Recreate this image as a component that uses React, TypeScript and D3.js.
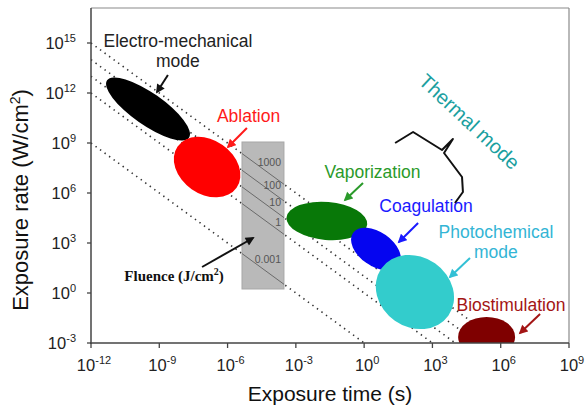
import React from "react";
import * as d3 from "d3";

// ---- data ----
const X_TICK_EXP = [-12, -9, -6, -3, 0, 3, 6, 9];
const Y_TICK_EXP = [-3, 0, 3, 6, 9, 12, 15];
const FLUENCES = [1000, 100, 10, 1, 0.001];
const FLUENCE_LABELS = ["1000", "100", "10", "1", "0.001"];
// label anchor (log time, log rate) for each fluence label
const FLUENCE_LABEL_POS: [number, number][] = [
  [-3.65, 7.62],
  [-3.65, 6.24],
  [-3.65, 5.22],
  [-3.65, 4.02],
  [-3.65, 1.8],
];
// fluence box extents: exposure time (s) and rate (W/cm2)
const BOX_TIME = [4.3e-6, 3.0e-4];
const BOX_RATE = [1.74, 1.15e9];

const REGION_NAMES = [
  "Electro-mechanical",
  "Ablation",
  "Vaporization",
  "Coagulation",
  "Photochemical",
  "Biostimulation",
];
const REGION_TIME = [3.2e-10, 1.26e-7, 2.3e-2, 3.3, 170, 2.4e5];
const REGION_RATE = [1.1e11, 3.6e7, 2.1e4, 4.4e2, 1.15, 2.3e-3];

// ---- styles ----
const REGION_STYLE: Record<string, { rx: number; ry: number; angle: number; fill: string }> = {
  "Electro-mechanical": { rx: 50, ry: 16, angle: 35, fill: "#000000" },
  Ablation: { rx: 36, ry: 27, angle: 35, fill: "#ff0000" },
  Vaporization: { rx: 40.5, ry: 19, angle: 5, fill: "#087808" },
  Coagulation: { rx: 28, ry: 17, angle: 35, fill: "#0505f0" },
  Photochemical: { rx: 41, ry: 35, angle: 35, fill: "#33cccc" },
  Biostimulation: { rx: 28.5, ry: 20, angle: 0, fill: "#7f0000" },
};

type Label = { lines: string[]; at: [number, number]; color: string; size: number };
const LABELS: Label[] = [
  { lines: ["Electro-mechanical", "mode"], at: [-8.18, 14.76], color: "#222", size: 17.5 },
  { lines: ["Ablation"], at: [-5.08, 10.26], color: "#ff1a1a", size: 17.5 },
  { lines: ["Vaporization"], at: [0.37, 6.9], color: "#2a9a2a", size: 17.5 },
  { lines: ["Coagulation"], at: [2.72, 4.86], color: "#1a1aff", size: 17.5 },
  { lines: ["Photochemical", "mode"], at: [5.79, 3.3], color: "#33b5d5", size: 17.5 },
  { lines: ["Biostimulation"], at: [6.45, -1.08], color: "#a31515", size: 17.5 },
];

type Arrow = { from: [number, number]; to: [number, number]; color: string; id: string };
const ARROWS: Arrow[] = [
  { from: [-8.62, 13.08], to: [-9.1, 12.06], color: "#111", id: "k" },
  { from: [-5.15, 9.9], to: [-5.98, 8.76], color: "#ff1a1a", id: "r" },
  { from: [-7.12, 1.56], to: [-4.88, 3.3], color: "#111", id: "k2" },
  { from: [-0.05, 6.6], to: [-0.84, 5.58], color: "#2a9a2a", id: "g" },
  { from: [2.37, 4.2], to: [1.53, 3.06], color: "#1a1aff", id: "b" },
  { from: [4.65, 2.1], to: [3.77, 0.96], color: "#33c0d5", id: "c" },
  { from: [7.73, -1.26], to: [6.85, -2.4], color: "#a31515", id: "d" },
];

const BRACE: [number, number][] = [
  [1.36, 9.0],
  [2.15, 9.66],
  [3.42, 8.58],
  [3.9, 9.24],
  [3.51, 8.4],
  [4.3, 6.96],
  [4.34, 6.06],
  [3.99, 5.4],
];
const THERMAL_AT: [number, number] = [4.61, 10.26];
const FLUENCE_TEXT_AT: [number, number] = [-8.35, 0.72];

const W = 587;
const H = 405;
const M = { left: 91, right: 569, top: 8, bottom: 343 };
const FONT = "'Liberation Sans', Arial, sans-serif";

export default function App() {
  const x = d3.scaleLog().domain([1e-12, 1e9]).range([M.left, M.right]);
  const y = d3.scaleLog().domain([1e-3, Math.pow(10, 17.1)]).range([M.bottom, M.top]);
  const L = (p: [number, number]): [number, number] => [x(Math.pow(10, p[0])), y(Math.pow(10, p[1]))];

  const tMin = 1e-12;
  const tMax = 1e9;
  const fluenceLine = (F: number) => {
    const pts: [number, number][] = [
      [x(tMin), y(F / tMin)],
      [x(tMax), y(F / tMax)],
    ];
    return d3.line()(pts) as string;
  };

  const bx0 = x(BOX_TIME[0]);
  const bx1 = x(BOX_TIME[1]);
  const by0 = y(BOX_RATE[1]);
  const by1 = y(BOX_RATE[0]);

  const bracePath = d3.line()(BRACE.map(L)) as string;
  const thermal = L(THERMAL_AT);
  const fl = L(FLUENCE_TEXT_AT);

  return (
    <svg
      width={W}
      height={H}
      style={{ position: "absolute", left: 0, top: 0, display: "block", background: "#fff" }}
      fontFamily={FONT}
    >
      <defs>
        <clipPath id="plot">
          <rect x={M.left} y={M.top} width={M.right - M.left} height={M.bottom - M.top} />
        </clipPath>
        <clipPath id="box">
          <rect x={bx0} y={by0} width={bx1 - bx0} height={by1 - by0} />
        </clipPath>
        {ARROWS.map((a) => (
          <marker
            key={a.id}
            id={"ah-" + a.id}
            viewBox="0 0 10 10"
            refX={8}
            refY={5}
            markerWidth={10}
            markerHeight={9}
            markerUnits="userSpaceOnUse"
            orient="auto"
          >
            <path d="M0,0 L10,5 L0,10 z" fill={a.color} />
          </marker>
        ))}
      </defs>

      {/* frame */}
      <line x1={M.left} x2={M.right} y1={M.top} y2={M.top} stroke="#8a8a8a" strokeWidth={1.2} />
      <line x1={M.right} x2={M.right} y1={M.top} y2={M.bottom} stroke="#8a8a8a" strokeWidth={1.2} />

      {/* dotted fluence lines */}
      <g clipPath="url(#plot)">
        {FLUENCES.map((F) => (
          <path
            key={F}
            d={fluenceLine(F)}
            stroke="#333"
            strokeWidth={1.6}
            strokeDasharray="1.4 4.2"
            fill="none"
          />
        ))}
      </g>

      {/* fluence box */}
      <rect x={bx0} y={by0} width={bx1 - bx0} height={by1 - by0} fill="#b9b9b9" stroke="#a8a8a8" />
      <g clipPath="url(#box)">
        {FLUENCES.map((F) => (
          <path key={F} d={fluenceLine(F)} stroke="#6a6a6a" strokeWidth={1} fill="none" />
        ))}
      </g>
      {FLUENCE_LABELS.map((s, i) => {
        const p = L(FLUENCE_LABEL_POS[i]);
        return (
          <text key={s} x={p[0]} y={p[1]} textAnchor="end" fontSize={10.5} fill="#555">
            {s}
          </text>
        );
      })}

      {/* regions */}
      <g clipPath="url(#plot)">
        {REGION_NAMES.map((n, i) => {
          const s = REGION_STYLE[n];
          const cx = x(REGION_TIME[i]);
          const cy = y(REGION_RATE[i]);
          return (
            <ellipse
              key={n}
              cx={0}
              cy={0}
              rx={s.rx}
              ry={s.ry}
              fill={s.fill}
              transform={`translate(${cx},${cy}) rotate(${s.angle})`}
            />
          );
        })}
      </g>

      {/* axes */}
      <line x1={M.left} x2={M.left} y1={M.top} y2={M.bottom + 1} stroke="#444" strokeWidth={1.5} />
      <line x1={M.left - 1} x2={M.right} y1={M.bottom} y2={M.bottom} stroke="#444" strokeWidth={1.5} />
      {X_TICK_EXP.map((e) => {
        const px = x(Math.pow(10, e));
        return (
          <g key={"x" + e}>
            <line x1={px} x2={px} y1={M.bottom} y2={M.bottom + 5} stroke="#444" strokeWidth={1.3} />
            <text x={px + 3} y={371} textAnchor="middle" fontSize={16.5} fill="#222">
              10
              <tspan dy={-7} fontSize={11}>
                {String(e)}
              </tspan>
            </text>
          </g>
        );
      })}
      {Y_TICK_EXP.map((e) => {
        const py = y(Math.pow(10, e));
        return (
          <g key={"y" + e}>
            <line x1={M.left - 4} x2={M.left} y1={py} y2={py} stroke="#444" strokeWidth={1.3} />
            <text x={76} y={py + 5.5} textAnchor="end" fontSize={16.5} fill="#222">
              10
              <tspan dy={-7} fontSize={11}>
                {String(e)}
              </tspan>
            </text>
          </g>
        );
      })}

      {/* axis titles */}
      <text x={(M.left + M.right) / 2} y={401} textAnchor="middle" fontSize={21} fill="#111">
        Exposure time (s)
      </text>
      <text
        transform={`translate(28,200) rotate(-90)`}
        textAnchor="middle"
        fontSize={22}
        fill="#111"
      >
        Exposure rate (W/cm
        <tspan dy={-8} fontSize={14}>
          2
        </tspan>
        <tspan dy={8}>)</tspan>
      </text>

      {/* arrows */}
      {ARROWS.map((a) => {
        const f = L(a.from);
        const t = L(a.to);
        return (
          <line
            key={a.id}
            x1={f[0]}
            y1={f[1]}
            x2={t[0]}
            y2={t[1]}
            stroke={a.color}
            strokeWidth={2}
            markerEnd={`url(#ah-${a.id})`}
          />
        );
      })}

      {/* labels */}
      {LABELS.map((lb) => {
        const p = L(lb.at);
        return (
          <text key={lb.lines[0]} x={p[0]} y={p[1]} textAnchor="middle" fontSize={lb.size} fill={lb.color}>
            {lb.lines.map((ln, i) => (
              <tspan key={i} x={p[0]} dy={i === 0 ? 0 : 20}>
                {ln}
              </tspan>
            ))}
          </text>
        );
      })}

      {/* fluence text */}
      <text
        x={fl[0]}
        y={fl[1]}
        textAnchor="middle"
        fontFamily="'Liberation Serif', 'Times New Roman', serif"
        fontWeight="bold"
        fontSize={15}
        fill="#111"
      >
        Fluence (J/cm
        <tspan dy={-6} fontSize={10}>
          2
        </tspan>
        <tspan dy={6}>)</tspan>
      </text>

      {/* thermal mode brace and label */}
      <path d={bracePath} fill="none" stroke="#111" strokeWidth={2} strokeLinejoin="round" />
      <text
        transform={`translate(${thermal[0]},${thermal[1]}) rotate(43)`}
        textAnchor="middle"
        dy={6.5}
        fontSize={20}
        fill="#1a9f9f"
      >
        Thermal mode
      </text>
    </svg>
  );
}
